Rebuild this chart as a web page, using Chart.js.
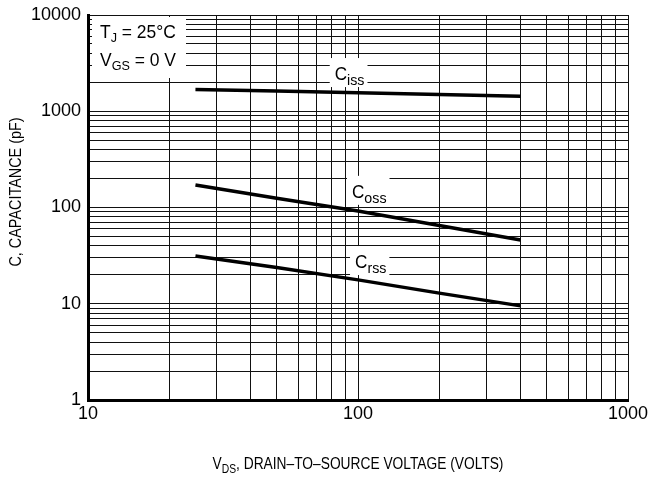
<!DOCTYPE html>
<html>
<head>
<meta charset="utf-8">
<script src="https://cdn.jsdelivr.net/npm/chart.js@4.4.1/dist/chart.umd.min.js"></script>
<style>html,body{margin:0;padding:0;background:#fff}canvas{display:block}</style>
</head>
<body>
<canvas id="c" width="649" height="492"></canvas>
<script>
// capacitance vs drain-source voltage, log-log
const vds  = [25, 50, 100, 200, 400];
const ciss = [1680, 1620, 1560, 1490, 1430];
const coss = [171, 125, 92, 65, 46];
const crss = [31.4, 23.8, 17.7, 12.9, 9.5];

const xTicks = [10,20,30,40,50,60,70,80,90,100,200,300,400,500,600,700,800,900,1000];
const yTicks = [1,2,3,4,5,6,7,8,9,10,20,30,40,50,60,70,80,90,100,200,300,400,500,600,700,800,900,
                1000,2000,3000,4000,5000,6000,7000,8000,9000,10000];

// curve labels: subscript, anchor V, anchor pF
const curveNames = ['iss', 'oss', 'rss'];
const labelAtV   = [82, 95, 97.5];
const labelAtC   = [2110, 126, 23.5];

const FONT = '"Liberation Sans",Arial,sans-serif';
const isDecade = v => Math.abs(Math.log10(v) - Math.round(Math.log10(v))) < 1e-9;

function subText(ctx, parts, x, y, align, sx){
  // parts: [text, size, dy]; sx = horizontal squeeze
  sx = sx || 1;
  let w = 0;
  parts.forEach(p => { ctx.font = p[1]+'px '+FONT; w += ctx.measureText(p[0]).width; });
  ctx.save();
  ctx.translate(align==='center' ? x - w*sx/2 : x, y);
  ctx.scale(sx, 1);
  ctx.textAlign = 'left'; ctx.textBaseline = 'alphabetic';
  let cx = 0;
  parts.forEach(p => { ctx.font = p[1]+'px '+FONT; ctx.fillText(p[0], cx, p[2]); cx += ctx.measureText(p[0]).width; });
  ctx.restore();
  return w*sx;
}

const notes = {
  id: 'notes',
  beforeDatasetsDraw(chart){
    const ctx = chart.ctx, a = chart.chartArea, xs = chart.scales.x, ys = chart.scales.y;
    ctx.save();
    ctx.fillStyle = '#fff';
    ctx.fillRect(a.left+4, a.top+2, 94, 61);
    ctx.fillStyle = '#000';
    subText(ctx, [['T',18,0],['J',13,4],[' = 25\u00B0C',18,0]], a.left+12, a.top+23, 'left', 0.97);
    subText(ctx, [['V',18,0],['GS',13,4],[' = 0 V',18,0]], a.left+12, a.top+51, 'left', 0.97);
    curveNames.forEach((s,i) => {
      const px = xs.getPixelForValue(labelAtV[i]), py = ys.getPixelForValue(labelAtC[i]);
      ctx.font = '18px '+FONT; const w1 = ctx.measureText('C').width;
      ctx.font = '15px '+FONT; const w2 = ctx.measureText(s).width;
      ctx.fillStyle = '#fff';
      ctx.fillRect(px-5, py-22, (w1+w2)*0.95+8, 29);
      ctx.fillStyle = '#000';
      subText(ctx, [['C',18,0],[s,15,5]], px, py, 'left', 0.95);
    });
    ctx.restore();
  },
  afterDraw(chart){
    const ctx = chart.ctx, a = chart.chartArea;
    ctx.save();
    ctx.fillStyle = '#000';
    ctx.font = '16px '+FONT; ctx.textAlign = 'center'; ctx.textBaseline = 'middle';
    ctx.translate(17, 192); ctx.rotate(-Math.PI/2); ctx.scale(0.9, 1);
    ctx.fillText('C, CAPACITANCE (pF)', 0, 0);
    ctx.restore();
    ctx.save();
    ctx.fillStyle = '#000';
    subText(ctx, [['V',16,0],['DS',12,4],[', DRAIN\u2013TO\u2013SOURCE VOLTAGE (VOLTS)',16,0]], (a.left+a.right)/2, 469, 'center', 0.86);
    ctx.restore();
  }
};

const line = (data) => ({
  data: vds.map((v,i) => ({x:v, y:data[i]})),
  borderColor:'#000', borderWidth:3.5, pointRadius:0, fill:false, tension:0, borderCapStyle:'butt'
});

new Chart(document.getElementById('c'), {
  type:'line',
  data:{ datasets:[line(ciss), line(coss), line(crss)] },
  options:{
    responsive:false, animation:false,
    layout:{padding:{top:15, right:21, left:0, bottom:0}},
    plugins:{legend:{display:false}, tooltip:{enabled:false}},
    scales:{
      x:{type:'logarithmic', min:10, max:1000,
        afterBuildTicks: s => { s.ticks = xTicks.map(v => ({value:v})); },
        afterFit: s => { s.height = 92; s.paddingLeft = 0; s.paddingRight = 0; },
        grid:{color:'#111', lineWidth:1, drawTicks:false},
        border:{color:'#000', width:3},
        ticks:{autoSkip:false, maxRotation:0, padding:3, color:'#000', font:{family:FONT, size:18},
          callback: v => isDecade(v) ? String(v) : ''}},
      y:{type:'logarithmic', min:1, max:10000,
        afterBuildTicks: s => { s.ticks = yTicks.map(v => ({value:v})); },
        afterFit: s => { s.width = 88; s.paddingTop = 0; s.paddingBottom = 0; },
        grid:{color:'#111', lineWidth:1, drawTicks:false},
        border:{color:'#000', width:3},
        ticks:{autoSkip:false, padding:7, color:'#000', font:{family:FONT, size:18},
          callback: v => isDecade(v) ? String(v) : ''}}
    }
  },
  plugins:[notes]
});
</script>
</body>
</html>
